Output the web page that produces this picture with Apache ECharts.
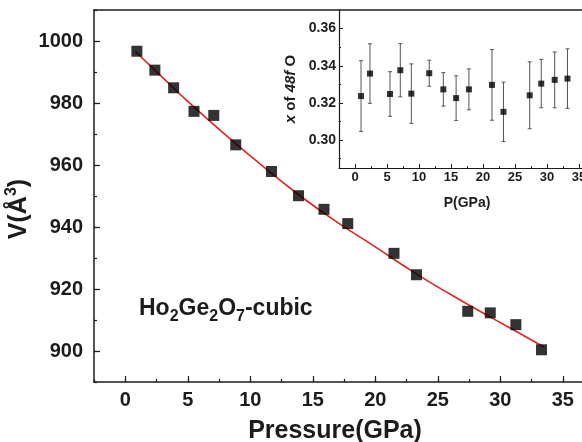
<!DOCTYPE html>
<html><head><meta charset="utf-8">
<script src="https://cdn.jsdelivr.net/npm/echarts@6/dist/echarts.min.js"></script>
<style>html,body{margin:0;padding:0;background:#fff}#c{width:582px;height:442px}</style>
</head><body><div id="c"></div>
<script>
// Main plot: volume vs pressure
const mainP = [0.93, 2.37, 3.87, 5.5, 7.08, 8.84, 11.7, 13.86, 15.9, 17.8, 21.5, 23.3, 27.4, 29.2, 31.25, 33.3];
const mainV = [996.7, 990.6, 984.9, 977.3, 976.0, 966.5, 957.9, 950.1, 945.7, 941.1, 931.5, 924.6, 912.8, 912.3, 908.5, 900.4];
// Fitted curve, points
const fitP = [0.8, 3, 5, 8, 11, 14, 17, 20, 23, 26, 29, 32, 33.5];
const fitV = [996.6, 988.2, 980.5, 969.8, 959.6, 950.0, 941.4, 933.6, 925.6, 918.3, 911.4, 904.7, 901.3];
// Inset: x of 48f O vs pressure
const insetP = [0.94, 2.34, 5.47, 7.08, 8.8, 11.6, 13.8, 15.8, 17.8, 21.4, 23.2, 27.3, 29.1, 31.2, 33.2];
const insetX = [0.3237, 0.3358, 0.3248, 0.3376, 0.3250, 0.3360, 0.3273, 0.3226, 0.3273, 0.3297, 0.3152, 0.3241, 0.3304, 0.3324, 0.3331];
const insetErr = [0.019, 0.016, 0.012, 0.0143, 0.016, 0.007, 0.009, 0.012, 0.011, 0.019, 0.016, 0.018, 0.013, 0.015, 0.016];
// Tick values
const mainXMajor = [0, 5, 10, 15, 20, 25, 30, 35];
const mainYMajor = [900, 920, 940, 960, 980, 1000];
const insetYMinor = [0.29, 0.30, 0.31, 0.32, 0.33, 0.34, 0.35, 0.36, 0.37];
const insetYMajor = [0.30, 0.32, 0.34, 0.36];

const FF = '"Liberation Sans", Arial, sans-serif';
const INK = '#1c1c1c';
const lineS = {color: INK, width: 1.5};

const chart = echarts.init(document.getElementById('c'));
const hidden = {show: false};

chart.setOption({
  animation: false,
  backgroundColor: '#fff',
  grid: [
    {left: 94, top: 10, bottom: 60, right: -12, containLabel: false, outerBoundsMode: 'none'},
    {left: 339, top: 10, bottom: 274, right: -13, containLabel: false, outerBoundsMode: 'none'}
  ],
  xAxis: [
    { // main minor + labels
      type: 'value', gridIndex: 0, position: 'bottom', min: -2.5, max: 37.5, interval: 2.5,
      axisLine: {show: true, onZero: false, lineStyle: lineS},
      axisTick: {show: true, inside: true, length: 3, lineStyle: {color: INK, width: 1.2}},
      axisLabel: {formatter: v => (Math.abs(v % 5) < 1e-9 && v >= 0 && v <= 35) ? String(v) : '',
        fontSize: 20, fontWeight: 'bold', color: INK, fontFamily: FF, margin: 8},
      splitLine: hidden,
      name: 'Pressure(GPa)', nameLocation: 'middle', nameGap: 37,
      nameTextStyle: {fontSize: 25, fontWeight: 'bold', color: INK, fontFamily: FF, padding: [0, 18, 0, 0]}
    },
    { // main major ticks
      type: 'value', gridIndex: 0, position: 'bottom', min: -2.5, max: 37.5,
      axisLine: {show: false, onZero: false},
      axisTick: {show: true, inside: true, length: 6, customValues: mainXMajor, lineStyle: {color: INK, width: 1.2}},
      axisLabel: hidden, splitLine: hidden
    },
    { // main top border
      type: 'value', gridIndex: 0, position: 'top', min: -2.5, max: 37.5,
      axisLine: {show: true, onZero: false, lineStyle: lineS},
      axisTick: hidden, axisLabel: hidden, splitLine: hidden
    },
    { // inset minor + labels
      type: 'value', gridIndex: 1, position: 'bottom', min: -2.5, max: 37.5, interval: 2.5,
      axisLine: {show: true, onZero: false, lineStyle: {color: INK, width: 1.2}},
      axisTick: {show: true, inside: true, length: 2, lineStyle: {color: INK, width: 1}},
      axisLabel: {formatter: v => (Math.abs(v % 5) < 1e-9 && v >= 0 && v <= 35) ? String(v) : '',
        fontSize: 13, fontWeight: 'bold', color: INK, fontFamily: FF, margin: 3},
      splitLine: hidden,
      name: 'P(GPa)', nameLocation: 'middle', nameGap: 28,
      nameTextStyle: {fontSize: 14, fontWeight: 'bold', color: INK, fontFamily: FF}
    },
    { // inset major ticks
      type: 'value', gridIndex: 1, position: 'bottom', min: -2.5, max: 37.5,
      axisLine: {show: false, onZero: false},
      axisTick: {show: true, inside: true, length: 4, customValues: mainXMajor, lineStyle: {color: INK, width: 1}},
      axisLabel: hidden, splitLine: hidden
    }
  ],
  yAxis: [
    { // main minor + labels
      type: 'value', gridIndex: 0, position: 'left', min: 890, max: 1010, interval: 10,
      axisLine: {show: true, onZero: false, lineStyle: lineS},
      axisTick: {show: true, inside: true, length: 3, lineStyle: {color: INK, width: 1.2}},
      axisLabel: {formatter: v => (v % 20 === 0 && v >= 900 && v <= 1000) ? String(v) : '',
        fontSize: 20, fontWeight: 'bold', color: INK, fontFamily: FF, margin: 11},
      splitLine: hidden,
      name: '{a|V(Å}{s|3}{a|)}', nameLocation: 'middle', nameGap: 60, nameRotate: 90,
      nameMoveOverlap: false,
      nameTextStyle: {padding: [0, 26, 0, 0], rich: {
        a: {fontSize: 25, fontWeight: 'bold', color: INK, fontFamily: FF, lineHeight: 30, verticalAlign: 'middle'},
        s: {fontSize: 16, fontWeight: 'bold', color: INK, fontFamily: FF, lineHeight: 30, verticalAlign: 'top'}
      }}
    },
    { // main major ticks
      type: 'value', gridIndex: 0, position: 'left', min: 890, max: 1010,
      axisLine: {show: false, onZero: false},
      axisTick: {show: true, inside: true, length: 6, customValues: mainYMajor, lineStyle: {color: INK, width: 1.2}},
      axisLabel: hidden, splitLine: hidden
    },
    { // inset minor + labels
      type: 'value', gridIndex: 1, position: 'left', min: 0.285, max: 0.37,
      axisLine: {show: true, onZero: false, lineStyle: {color: INK, width: 1.2}},
      axisTick: {show: true, inside: true, length: 2, customValues: insetYMinor, lineStyle: {color: INK, width: 1}},
      axisLabel: {customValues: insetYMajor, formatter: v => v.toFixed(2),
        fontSize: 14, fontWeight: 'bold', color: INK, fontFamily: FF, margin: 3},
      splitLine: hidden,
      name: '{i|x} of {i|48f} O', nameLocation: 'middle', nameGap: 41, nameRotate: 90,
      nameTextStyle: {fontSize: 15, fontWeight: 'bold', color: INK, fontFamily: FF,
        rich: {i: {fontSize: 15, fontWeight: 'bold', fontStyle: 'italic', color: INK, fontFamily: FF}}}
    },
    { // inset major ticks
      type: 'value', gridIndex: 1, position: 'left', min: 0.285, max: 0.37,
      axisLine: {show: false, onZero: false},
      axisTick: {show: true, inside: true, length: 4, customValues: insetYMajor, lineStyle: {color: INK, width: 1}},
      axisLabel: hidden, splitLine: hidden
    }
  ],
  graphic: [{
    type: 'text', left: 139, top: 297, z: 10,
    style: {
      text: '{m|Ho}{s|2}{m|Ge}{s|2}{m|O}{s|7}{m|-cubic}',
      rich: {
        m: {fontSize: 23, fontWeight: 'bold', fill: INK, fontFamily: FF, lineHeight: 32, verticalAlign: 'middle'},
        s: {fontSize: 16, fontWeight: 'bold', fill: INK, fontFamily: FF, lineHeight: 32, verticalAlign: 'bottom'}
      }
    }
  }],
  series: [
    {
      type: 'line', xAxisIndex: 0, yAxisIndex: 0, smooth: true, symbol: 'none',
      lineStyle: {color: '#e3231f', width: 1.6}, z: 2,
      data: fitP.map((p, i) => [p, fitV[i]])
    },
    {
      type: 'scatter', xAxisIndex: 0, yAxisIndex: 0, symbol: 'rect', symbolSize: 11,
      itemStyle: {color: '#000'}, z: 3,
      data: mainP.map((p, i) => [p, mainV[i]])
    },
    {
      type: 'custom', xAxisIndex: 3, yAxisIndex: 2, z: 2,
      data: insetP.map((p, i) => [p, insetX[i] - insetErr[i], insetX[i] + insetErr[i]]),
      renderItem: (params, api) => {
        const lo = api.coord([api.value(0), api.value(1)]);
        const hi = api.coord([api.value(0), api.value(2)]);
        const w = 2;
        const st = {stroke: '#555', lineWidth: 1};
        return {type: 'group', children: [
          {type: 'line', shape: {x1: lo[0], y1: lo[1], x2: hi[0], y2: hi[1]}, style: st},
          {type: 'line', shape: {x1: lo[0] - w, y1: lo[1], x2: lo[0] + w, y2: lo[1]}, style: st},
          {type: 'line', shape: {x1: hi[0] - w, y1: hi[1], x2: hi[0] + w, y2: hi[1]}, style: st}
        ]};
      }
    },
    {
      type: 'scatter', xAxisIndex: 3, yAxisIndex: 2, symbol: 'rect', symbolSize: 6,
      itemStyle: {color: '#000'}, z: 3,
      data: insetP.map((p, i) => [p, insetX[i]])
    }
  ]
});
</script></body></html>
